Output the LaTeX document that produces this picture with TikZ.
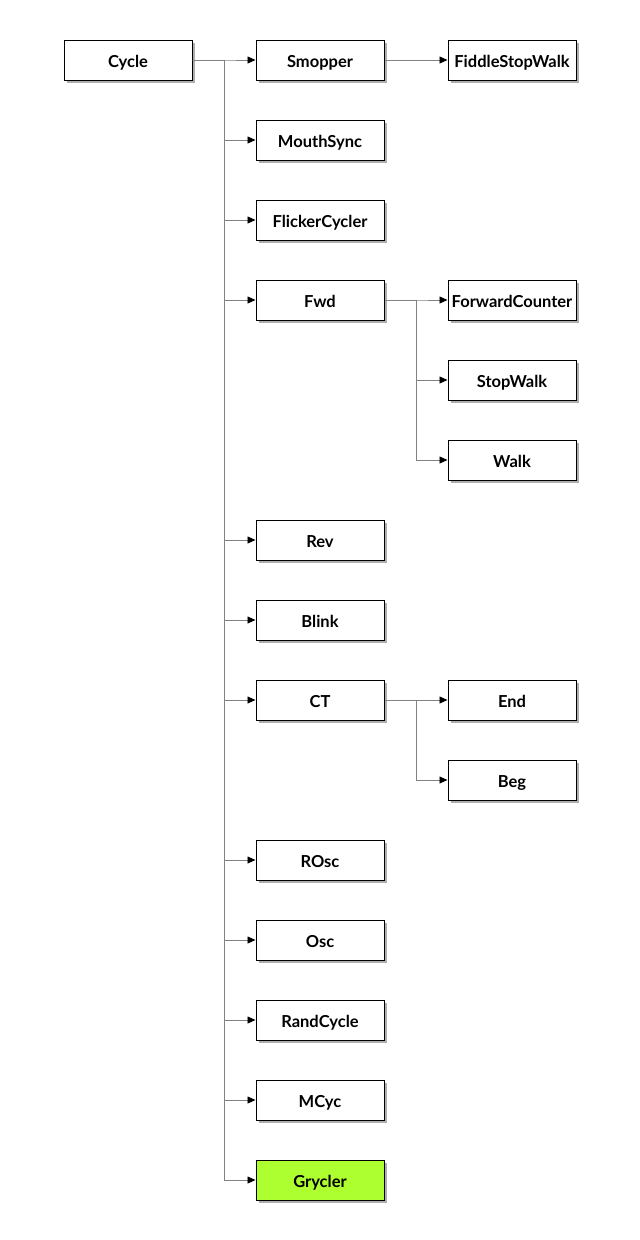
\documentclass[tikz,border=0pt]{standalone}
\usepackage{fontspec}
\setmainfont{Lato}
\usetikzlibrary{arrows.meta,shadows}
\begin{document}
\begin{tikzpicture}[x=1pt,y=-1pt,
  box/.style={draw=black, line width=1pt, fill=white, minimum width=128pt, minimum height=40pt,
    inner sep=0pt, text height=14pt, text depth=0pt, font=\fontsize{16.5}{18}\selectfont\bfseries,
    drop shadow={shadow xshift=2.5pt, shadow yshift=-2.5pt, opacity=0.45, fill=black!70}},
  hl/.style={fill={rgb,255:red,173;green,255;blue,47}},
  conn/.style={draw={rgb,255:red,130;green,130;blue,130}, line width=0.9pt,
    -{Triangle[black,length=8pt,width=7pt]}}
]
\useasboundingbox (0,0) rectangle (640,1240);
\node[box] (cycle) at (128,60) {Cycle};
\node[box] (smopper) at (320,60) {Smopper};
\node[box] (mouth) at (320,140) {MouthSync};
\node[box] (flicker) at (320,220) {FlickerCycler};
\node[box] (fwd) at (320,300) {Fwd};
\node[box] (rev) at (320,540) {Rev};
\node[box] (blink) at (320,620) {Blink};
\node[box] (ct) at (320,700) {CT};
\node[box] (rosc) at (320,860) {ROsc};
\node[box] (osc) at (320,940) {Osc};
\node[box] (rand) at (320,1020) {RandCycle};
\node[box] (mcyc) at (320,1100) {MCyc};
\node[box,hl] (gry) at (320,1180) {Grycler};
\node[box] (fsw) at (512,60) {FiddleStopWalk};
\node[box] (fc) at (512,300) {ForwardCounter};
\node[box] (sw) at (512,380) {StopWalk};
\node[box] (walk) at (512,460) {Walk};
\node[box] (end) at (512,700) {End};
\node[box] (beg) at (512,780) {Beg};
\coordinate (t1) at (224,60);
\coordinate (t2) at (416,300);
\coordinate (t3) at (416,700);
\foreach \c in {smopper,mouth,flicker,fwd,rev,blink,ct,rosc,osc,rand,mcyc,gry}
  \draw[conn] (cycle.east) -- (t1) |- (\c.west);
\draw[conn] (smopper.east) -- (fsw.west);
\foreach \c in {fc,sw,walk}
  \draw[conn] (fwd.east) -- (t2) |- (\c.west);
\foreach \c in {end,beg}
  \draw[conn] (ct.east) -- (t3) |- (\c.west);
\end{tikzpicture}
\end{document}
